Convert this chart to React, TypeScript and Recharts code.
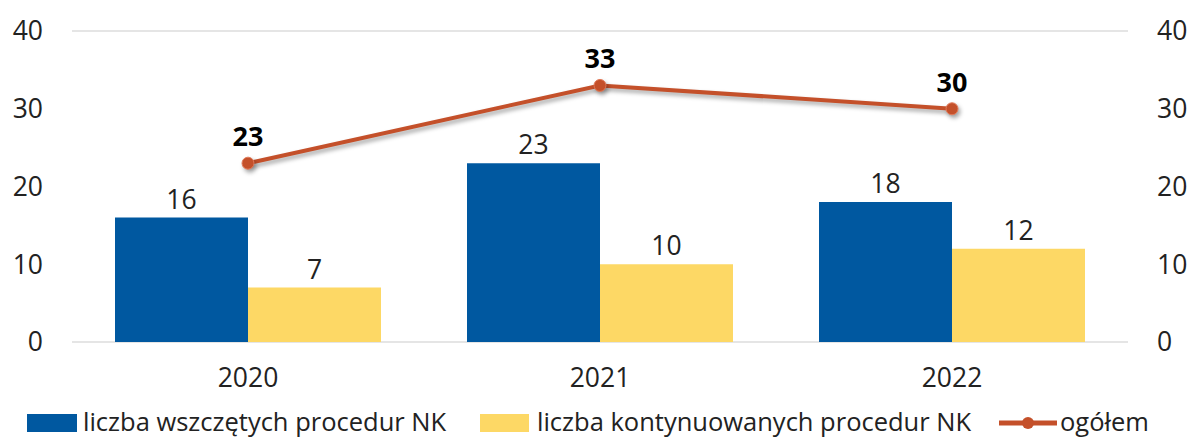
import React from "react";
import { ComposedChart, Bar, Line, XAxis, YAxis, CartesianGrid, LabelList } from "recharts";

const years = ["2020", "2021", "2022"];
const started = [16, 23, 18];
const continued = [7, 10, 12];
const total = [23, 33, 30];
const yTicks = [0, 10, 20, 30, 40];
const legendLabels = ["liczba wszczętych procedur NK", "liczba kontynuowanych procedur NK", "ogółem"];

const data = years.map((y, i) => ({ year: y, started: started[i], continued: continued[i], total: total[i] }));

const FONT = "'Open Sans', 'Noto Sans', sans-serif";
const BLUE = "#0058A0";
const YELLOW = "#FDD865";
const RED = "#C4502A";
const TXT = "#222";

export default function App() {
  const itemStyle: React.CSSProperties = {
    position: "absolute",
    top: 407,
    height: 28,
    lineHeight: "28px",
    fontSize: 25.5,
    color: TXT,
    whiteSpace: "nowrap",
    fontFamily: FONT,
  };
  return (
    <div
      style={{
        position: "fixed",
        top: 0,
        left: 0,
        width: 1191,
        height: 437,
        overflow: "hidden",
        fontFamily: FONT,
        background: "#fff",
      }}
    >
      <ComposedChart
        width={1191}
        height={437}
        data={data}
        margin={{ top: 31, right: 0, left: 0, bottom: 45 }}
        barCategoryGap={43}
        barGap={0}
      >
        <CartesianGrid vertical={false} stroke="#DCDCDC" strokeWidth={1.5} />
        <XAxis
          dataKey="year"
          axisLine={false}
          tickLine={false}
          height={50}
          tick={{ fill: TXT, fontSize: 26.5, fontFamily: FONT }}
          tickMargin={20}
        />
        <YAxis
          yAxisId="left"
          domain={[0, 40]}
          ticks={yTicks}
          width={72}
          axisLine={false}
          tickLine={false}
          tick={{ fill: TXT, fontSize: 26.5, fontFamily: FONT }}
          tickMargin={23}
        />
        <YAxis
          yAxisId="right"
          orientation="right"
          domain={[0, 40]}
          ticks={yTicks}
          width={63}
          axisLine={false}
          tickLine={false}
          tick={{ fill: TXT, fontSize: 26.5, fontFamily: FONT }}
          tickMargin={23}
        />
        <Bar yAxisId="left" dataKey="started" fill={BLUE} isAnimationActive={false}>
          <LabelList dataKey="started" position="top" offset={9} fill={TXT} fontSize={26.5} fontFamily={FONT} />
        </Bar>
        <Bar yAxisId="left" dataKey="continued" fill={YELLOW} isAnimationActive={false}>
          <LabelList dataKey="continued" position="top" offset={9} fill={TXT} fontSize={26.5} fontFamily={FONT} />
        </Bar>
        <Line
          yAxisId="right"
          dataKey="total"
          stroke={RED}
          strokeWidth={4}
          dot={{ r: 6, fill: RED, stroke: "#E07A5A", strokeWidth: 1 }}
          isAnimationActive={false}
          style={{ filter: "drop-shadow(2px 3px 2px rgba(0,0,0,0.35))" }}
        >
          <LabelList dataKey="total" position="top" offset={17} fill="#000" fontSize={27} fontWeight="bold" fontFamily={FONT} />
        </Line>
      </ComposedChart>
      <span style={{ position: "absolute", left: 27, top: 414, width: 50, height: 18, background: BLUE }} />
      <span style={{ ...itemStyle, left: 83 }}>{legendLabels[0]}</span>
      <span style={{ position: "absolute", left: 480, top: 414, width: 49, height: 18, background: YELLOW }} />
      <span style={{ ...itemStyle, left: 537 }}>{legendLabels[1]}</span>
      <svg width={60} height={20} style={{ position: "absolute", left: 998, top: 413 }}>
        <line x1={1} y1={10} x2={59} y2={10} stroke={RED} strokeWidth={5} />
        <circle cx={30} cy={10} r={6} fill={RED} />
      </svg>
      <span style={{ ...itemStyle, left: 1060 }}>{legendLabels[2]}</span>
    </div>
  );
}
